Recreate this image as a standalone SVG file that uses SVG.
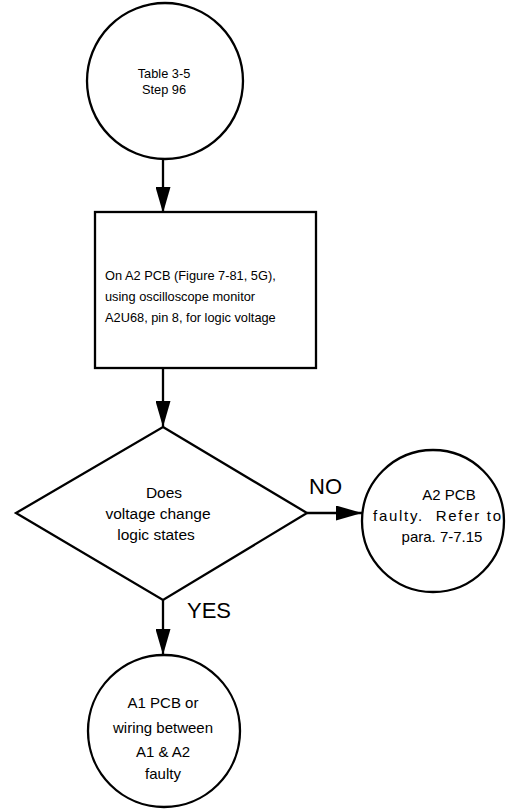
<svg xmlns="http://www.w3.org/2000/svg" width="506" height="809" viewBox="0 0 506 809">
<style>
.shape{fill:#fff;stroke:#000;stroke-width:2.3}
.edge{stroke:#000;stroke-width:2.3;fill:none}
.t{font-family:"Liberation Sans",Arial,sans-serif;fill:#000;text-anchor:middle}
.top{font-size:12.8px}
.box{font-size:12.8px;text-anchor:start}
.dec{font-size:15.5px}
.no{font-size:15px}
.yes{font-size:15px}
.lbl{font-family:"Liberation Sans",Arial,sans-serif;font-size:22px;fill:#000}
</style>
<defs>
<marker id="ah" viewBox="0 0 26 15" refX="26" refY="7.5" markerWidth="26" markerHeight="15" markerUnits="userSpaceOnUse" orient="auto">
<path d="M0,0 L26,7.5 L0,15 Z" fill="#000"/>
</marker>
</defs>
<rect width="506" height="809" fill="#fff"/>
<g id="connectors">
<line class="edge" x1="163" y1="159" x2="163" y2="213" marker-end="url(#ah)"/>
<line class="edge" x1="163" y1="368" x2="163" y2="427" marker-end="url(#ah)"/>
<line class="edge" x1="307" y1="513" x2="362" y2="513" marker-end="url(#ah)"/>
<line class="edge" x1="163" y1="600" x2="163" y2="655" marker-end="url(#ah)"/>
</g>
<g id="start">
<circle class="shape" cx="165" cy="81" r="78"/>
<text class="t top" x="164" y="78">Table 3-5</text>
<text class="t top" x="164" y="94">Step 96</text>
</g>
<g id="process">
<rect class="shape" x="95" y="212" width="221" height="156"/>
<text class="t box" x="105" y="280">On A2 PCB (Figure 7-81, 5G),</text>
<text class="t box" x="105" y="301">using oscilloscope monitor</text>
<text class="t box" x="105" y="322">A2U68, pin 8, for logic voltage</text>
</g>
<g id="decision">
<polygon class="shape" points="163,427 307,513 163,600 16,513"/>
<text class="t dec" x="164" y="498">Does</text>
<text class="t dec" x="158" y="519">voltage change</text>
<text class="t dec" x="156" y="540">logic states</text>
</g>
<g id="no-end">
<circle class="shape" cx="433" cy="521" r="71"/>
<text class="t no" x="449" y="500">A2 PCB</text>
<text class="t no" x="437" y="521" xml:space="preserve" textLength="128" lengthAdjust="spacing">faulty.  Refer to</text>
<text class="t no" x="442" y="542">para. 7-7.15</text>
</g>
<g id="yes-end">
<circle class="shape" cx="164" cy="731" r="76"/>
<text class="t yes" x="163" y="708">A1 PCB or</text>
<text class="t yes" x="163" y="733">wiring between</text>
<text class="t yes" x="163" y="757">A1 &amp; A2</text>
<text class="t yes" x="163" y="779">faulty</text>
</g>
<g id="labels">
<text class="lbl" x="309" y="494">NO</text>
<text class="lbl" x="187" y="618">YES</text>
</g>
</svg>
